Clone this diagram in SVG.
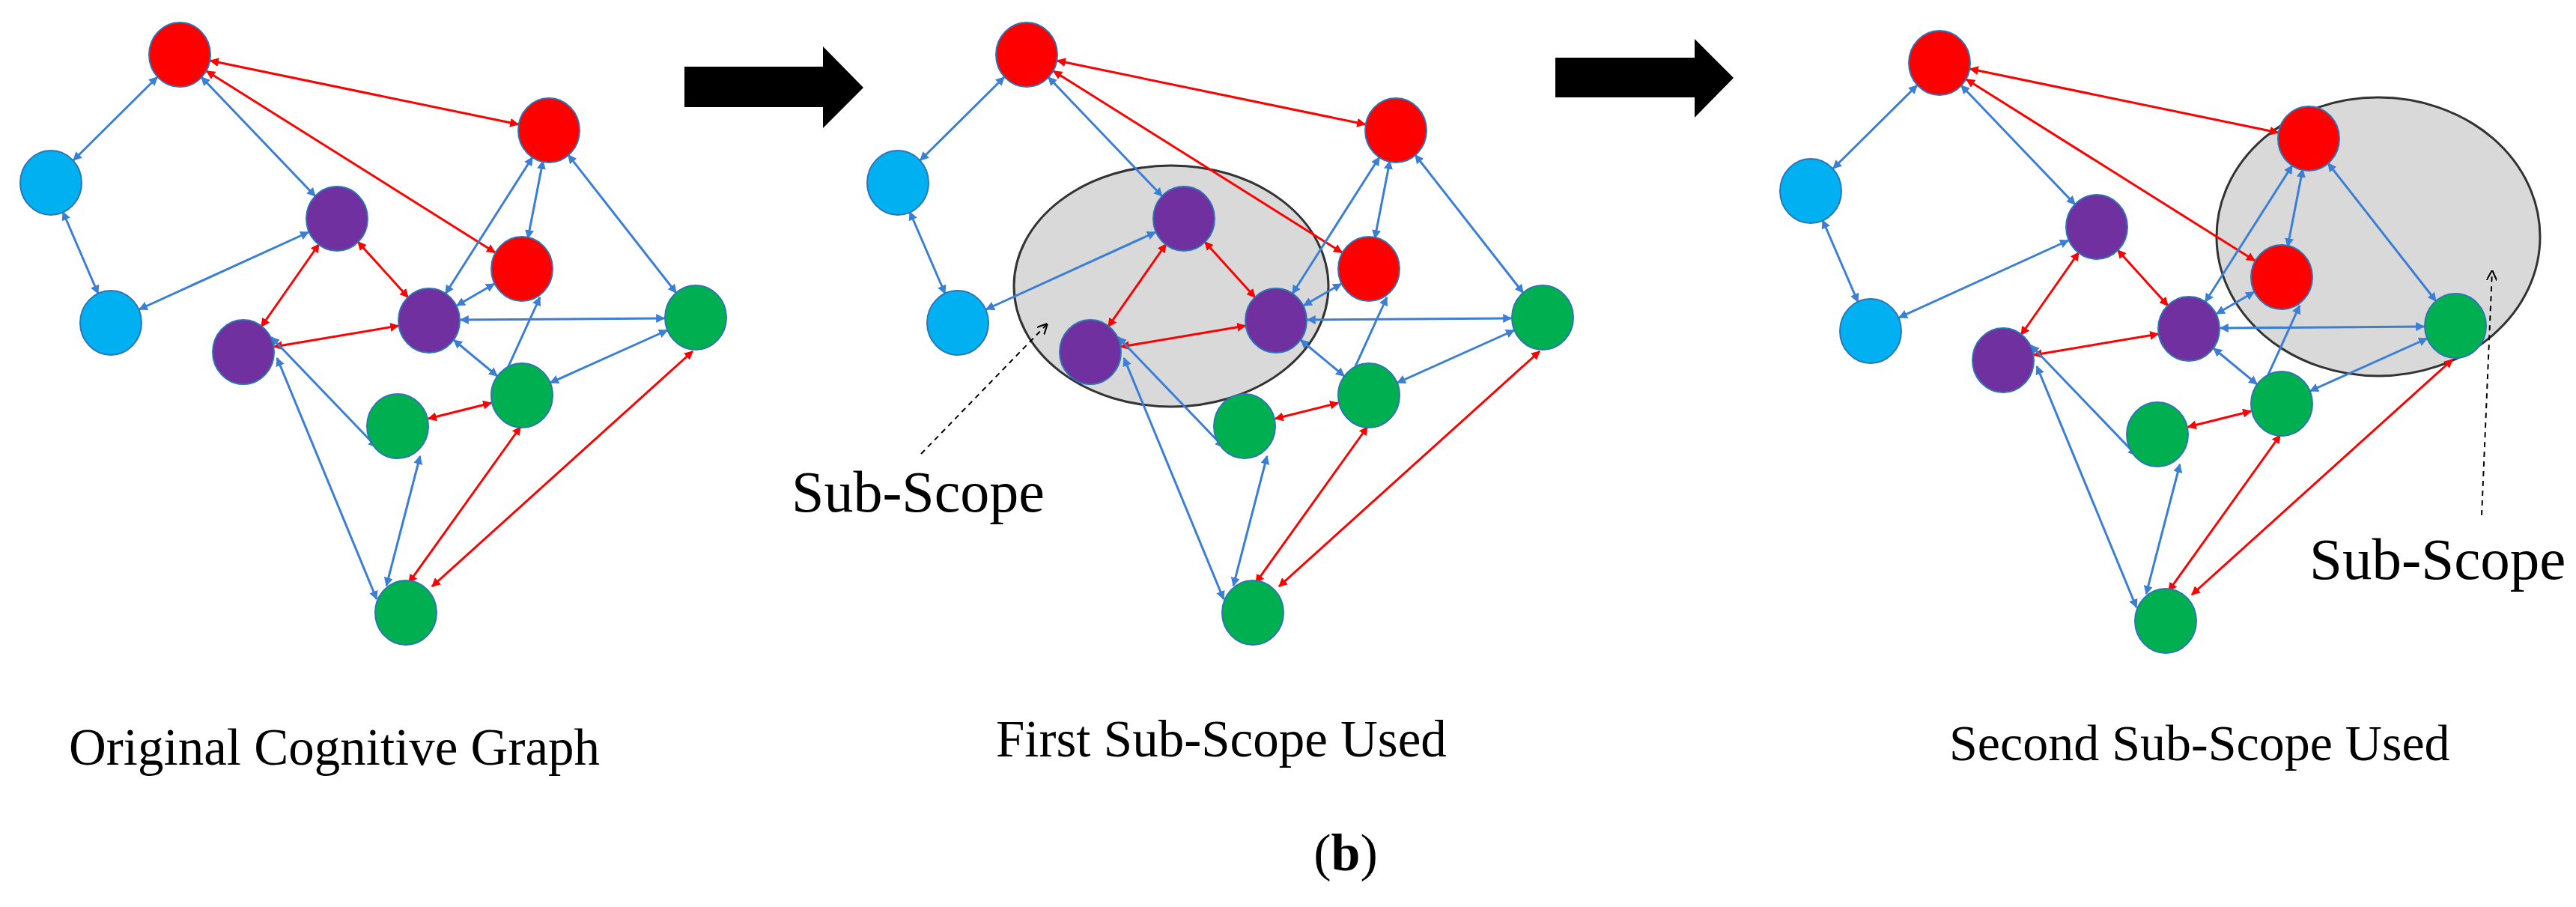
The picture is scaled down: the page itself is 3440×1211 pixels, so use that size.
<svg xmlns="http://www.w3.org/2000/svg" xmlns:xlink="http://www.w3.org/1999/xlink" width="3440" height="1211" viewBox="0 0 3440 1211">
<style>
.r{fill:#ff0000}.c{fill:#00b0f0}.p{fill:#7030a0}.g{fill:#00b050}
ellipse.n{stroke:#2e75b6;stroke-width:2}
.eb{stroke:#3a7fd5;stroke-width:3;fill:none;marker-start:url(#hb);marker-end:url(#hb)}
.er{stroke:#ff0000;stroke-width:3;fill:none;marker-start:url(#hr);marker-end:url(#hr)}
.scope{fill:#d9d9d9;stroke:#333;stroke-width:3}
.t{font-family:"Liberation Serif","Times New Roman",serif;fill:#000}
.dash{stroke:#000;stroke-width:2;stroke-dasharray:7,6;fill:none;marker-end:url(#ho)}
</style>
<defs>
<marker id="hb" viewBox="0 0 10 10" refX="9" refY="5" markerWidth="4" markerHeight="4" orient="auto-start-reverse"><path d="M0,0L10,5L0,10z" fill="#3a7fd5"/></marker>
<marker id="hr" viewBox="0 0 10 10" refX="9" refY="5" markerWidth="4" markerHeight="4" orient="auto-start-reverse"><path d="M0,0L10,5L0,10z" fill="#ff0000"/></marker>
<marker id="ho" viewBox="0 0 10 10" refX="9" refY="5" markerWidth="7" markerHeight="7" orient="auto"><path d="M0,0L10,5L0,10" fill="none" stroke="#000" stroke-width="1.5"/></marker>
</defs>
<rect width="3440" height="1211" fill="#fff"/>
<g id="bigarrows">
<polygon points="914,89 1099,89 1099,62 1153,117 1099,171 1099,143 914,143" fill="#000"/>
<polygon points="2077,77 2263,77 2263,52 2315,104 2263,157 2263,130 2077,130" fill="#000"/>
</g>
<g id="scope2"><ellipse class="scope" cx="1564" cy="382" rx="210" ry="161"/></g>
<g id="scope3"><ellipse class="scope" cx="3176" cy="316" rx="216" ry="186"/></g>
<g id="connectors">
<g id="edges1">
<line class="er" x1="281" y1="81" x2="692" y2="166"/>
<line class="er" x1="276" y1="95" x2="661" y2="337"/>
<line class="eb" x1="210" y1="103" x2="98" y2="214"/>
<line class="eb" x1="269" y1="103" x2="421" y2="262"/>
<line class="eb" x1="84" y1="283" x2="131" y2="392"/>
<line class="eb" x1="412" y1="310" x2="186" y2="413"/>
<line class="er" x1="426" y1="326" x2="349" y2="436"/>
<line class="er" x1="478" y1="323" x2="545" y2="397"/>
<line class="eb" x1="711" y1="210" x2="595" y2="392"/>
<line class="eb" x1="725" y1="215" x2="705" y2="318"/>
<line class="eb" x1="759" y1="207" x2="903" y2="391"/>
<line class="eb" x1="660" y1="379" x2="610" y2="408"/>
<line class="eb" x1="721" y1="397" x2="664" y2="522"/>
<line class="er" x1="366" y1="463" x2="532" y2="435"/>
<line class="eb" x1="615" y1="427" x2="887" y2="425"/>
<line class="eb" x1="606" y1="454" x2="664" y2="502"/>
<line class="eb" x1="891" y1="441" x2="735" y2="511"/>
<line class="eb" x1="362" y1="450" x2="503" y2="597"/>
<line class="eb" x1="370" y1="478" x2="503" y2="800"/>
<line class="eb" x1="561" y1="609" x2="516" y2="782"/>
<line class="er" x1="572" y1="559" x2="656" y2="538"/>
<line class="er" x1="695" y1="570" x2="546" y2="778"/>
<line class="er" x1="925" y1="469" x2="577" y2="783"/>
</g>
<use xlink:href="#edges1" href="#edges1" transform="translate(1131,0)"/>
<use xlink:href="#edges1" href="#edges1" transform="translate(2350,11)"/>
<line class="dash" x1="1230" y1="606" x2="1398" y2="433"/>
<line class="dash" x1="3314" y1="688" x2="3328" y2="362"/>
</g>
<g id="graph1-nodes">
<g id="g1-R1"><ellipse class="n r" cx="240" cy="73" rx="41" ry="43"/></g>
<g id="g1-R2"><ellipse class="n r" cx="733" cy="174" rx="41" ry="43"/></g>
<g id="g1-C1"><ellipse class="n c" cx="68" cy="244" rx="41" ry="43"/></g>
<g id="g1-P1"><ellipse class="n p" cx="450" cy="292" rx="41" ry="43"/></g>
<g id="g1-R3"><ellipse class="n r" cx="697" cy="359" rx="41" ry="43"/></g>
<g id="g1-C2"><ellipse class="n c" cx="148" cy="431" rx="41" ry="43"/></g>
<g id="g1-P2"><ellipse class="n p" cx="573" cy="428" rx="41" ry="43"/></g>
<g id="g1-P3"><ellipse class="n p" cx="325" cy="470" rx="41" ry="43"/></g>
<g id="g1-G1"><ellipse class="n g" cx="929" cy="424" rx="41" ry="43"/></g>
<g id="g1-G2"><ellipse class="n g" cx="697" cy="528" rx="41" ry="43"/></g>
<g id="g1-G3"><ellipse class="n g" cx="531" cy="569" rx="41" ry="43"/></g>
<g id="g1-G4"><ellipse class="n g" cx="542" cy="818" rx="41" ry="43"/></g>
</g>
<g id="graph2-nodes" transform="translate(1131,0)">
<g id="g2-R1"><ellipse class="n r" cx="240" cy="73" rx="41" ry="43"/></g>
<g id="g2-R2"><ellipse class="n r" cx="733" cy="174" rx="41" ry="43"/></g>
<g id="g2-C1"><ellipse class="n c" cx="68" cy="244" rx="41" ry="43"/></g>
<g id="g2-P1"><ellipse class="n p" cx="450" cy="292" rx="41" ry="43"/></g>
<g id="g2-R3"><ellipse class="n r" cx="697" cy="359" rx="41" ry="43"/></g>
<g id="g2-C2"><ellipse class="n c" cx="148" cy="431" rx="41" ry="43"/></g>
<g id="g2-P2"><ellipse class="n p" cx="573" cy="428" rx="41" ry="43"/></g>
<g id="g2-P3"><ellipse class="n p" cx="325" cy="470" rx="41" ry="43"/></g>
<g id="g2-G1"><ellipse class="n g" cx="929" cy="424" rx="41" ry="43"/></g>
<g id="g2-G2"><ellipse class="n g" cx="697" cy="528" rx="41" ry="43"/></g>
<g id="g2-G3"><ellipse class="n g" cx="531" cy="569" rx="41" ry="43"/></g>
<g id="g2-G4"><ellipse class="n g" cx="542" cy="818" rx="41" ry="43"/></g>
</g>
<g id="graph3-nodes" transform="translate(2350,11)">
<g id="g3-R1"><ellipse class="n r" cx="240" cy="73" rx="41" ry="43"/></g>
<g id="g3-R2"><ellipse class="n r" cx="733" cy="174" rx="41" ry="43"/></g>
<g id="g3-C1"><ellipse class="n c" cx="68" cy="244" rx="41" ry="43"/></g>
<g id="g3-P1"><ellipse class="n p" cx="450" cy="292" rx="41" ry="43"/></g>
<g id="g3-R3"><ellipse class="n r" cx="697" cy="359" rx="41" ry="43"/></g>
<g id="g3-C2"><ellipse class="n c" cx="148" cy="431" rx="41" ry="43"/></g>
<g id="g3-P2"><ellipse class="n p" cx="573" cy="428" rx="41" ry="43"/></g>
<g id="g3-P3"><ellipse class="n p" cx="325" cy="470" rx="41" ry="43"/></g>
<g id="g3-G1"><ellipse class="n g" cx="929" cy="424" rx="41" ry="43"/></g>
<g id="g3-G2"><ellipse class="n g" cx="697" cy="528" rx="41" ry="43"/></g>
<g id="g3-G3"><ellipse class="n g" cx="531" cy="569" rx="41" ry="43"/></g>
<g id="g3-G4"><ellipse class="n g" cx="542" cy="818" rx="41" ry="43"/></g>
</g>
<g id="labels">
<text class="t" x="1057" y="683" font-size="78">Sub-Scope</text>
<text class="t" x="3084" y="773" font-size="79">Sub-Scope</text>
<text class="t" x="92" y="1021" font-size="69">Original Cognitive Graph</text>
<text class="t" x="1330" y="1010" font-size="69">First Sub-Scope Used</text>
<text class="t" x="2603" y="1015" font-size="68">Second Sub-Scope Used</text>
<text class="t" x="1797" y="1162" font-size="70" text-anchor="middle">(<tspan font-weight="bold">b</tspan>)</text>
</g>
</svg>
